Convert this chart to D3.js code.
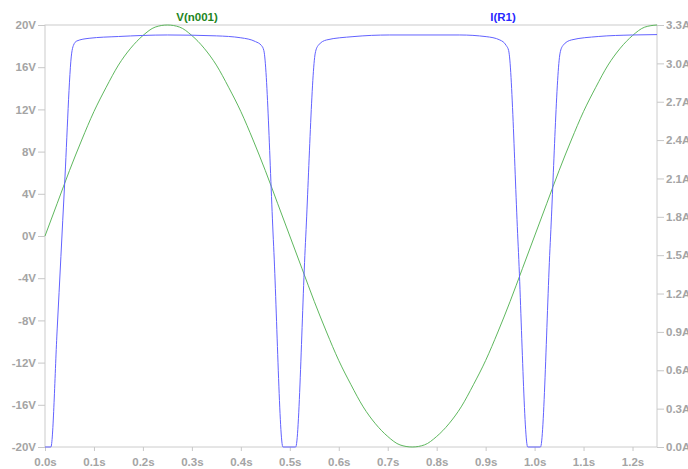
<!DOCTYPE html>
<html>
<head>
<meta charset="utf-8">
<script src="https://cdn.jsdelivr.net/npm/d3@7"></script>
<style>
  body { margin: 0; background: #fff; }
  svg { display: block; font-family: "Liberation Sans", Arial, sans-serif; }
  .axis text { fill: #a4a4a4; font-size: 11.5px; font-weight: bold; }
  .axis line { stroke: #c8c8c8; }
</style>
</head>
<body>
<svg id="plot"></svg>
<script>
// V(n001) (volts)
var timeV = [0, 0.025, 0.05, 0.075, 0.1, 0.125, 0.15, 0.175, 0.2, 0.225, 0.25,
             0.275, 0.3, 0.325, 0.35, 0.375, 0.4, 0.425, 0.45, 0.475, 0.5,
             0.525, 0.55, 0.575, 0.6, 0.625, 0.65, 0.675, 0.7, 0.725, 0.75,
             0.775, 0.8, 0.825, 0.85, 0.875, 0.9, 0.925, 0.95, 0.975, 1.0,
             1.025, 1.05, 1.075, 1.1, 1.125, 1.15, 1.175, 1.2, 1.225, 1.25];
var voltage = [0, 3.1, 6.2, 9.1, 11.8, 14.1, 16.2, 17.8, 19.0, 19.8, 20.0,
               19.8, 19.0, 17.8, 16.2, 14.1, 11.8, 9.1, 6.2, 3.1, 0,
               -3.1, -6.2, -9.1, -11.8, -14.1, -16.2, -17.8, -19.0, -19.8, -20.0,
               -19.8, -19.0, -17.8, -16.2, -14.1, -11.8, -9.1, -6.2, -3.1, 0,
               3.1, 6.2, 9.1, 11.8, 14.1, 16.2, 17.8, 19.0, 19.8, 20.0];

// I(R1) (amps)
var timeI = [0, 0.012, 0.025, 0.04, 0.0545, 0.058, 0.065, 0.09, 0.15, 0.25, 0.35, 0.40, 0.43, 0.442, 0.447,
             0.467, 0.486, 0.512, 0.532, 0.552, 0.558, 0.575, 0.629, 0.704, 0.847, 0.901, 0.929, 0.942, 0.947,
             0.9665, 0.986, 1.012, 1.032, 1.052, 1.058, 1.075, 1.13, 1.2, 1.25];
var current = [0, 0, 0.93, 2.05, 3.08, 3.14, 3.175, 3.196, 3.21, 3.222, 3.215, 3.20, 3.17, 3.14, 3.1,
               1.57, 0, 0, 1.6, 3.08, 3.14, 3.183, 3.209, 3.222, 3.222, 3.209, 3.183, 3.14, 3.1,
               1.57, 0, 0, 1.6, 3.08, 3.14, 3.183, 3.21, 3.222, 3.225];

var xTicks = [0, 0.1, 0.2, 0.3, 0.4, 0.5, 0.6, 0.7, 0.8, 0.9, 1.0, 1.1, 1.2];
var vTicks = [-20, -16, -12, -8, -4, 0, 4, 8, 12, 16, 20];
var iTicks = [0, 0.3, 0.6, 0.9, 1.2, 1.5, 1.8, 2.1, 2.4, 2.7, 3.0, 3.3];

var width = 688, height = 469;
var plotLeft = 45, plotRight = 657, plotTop = 25, plotBottom = 447;

var svg = d3.select("#plot").attr("width", width).attr("height", height);

var x = d3.scaleLinear().domain([0, 1.25]).range([plotLeft, plotRight]);
var yV = d3.scaleLinear().domain([-20, 20]).range([plotBottom, plotTop]);
var yI = d3.scaleLinear().domain([0, 3.3]).range([plotBottom, plotTop]);

// frame
svg.append("rect")
   .attr("x", plotLeft).attr("y", plotTop)
   .attr("width", plotRight - plotLeft).attr("height", plotBottom - plotTop)
   .attr("fill", "none")
   .attr("stroke", "#cccccc");

svg.append("g")
   .attr("class", "axis")
   .attr("transform", "translate(0," + plotBottom + ")")
   .call(d3.axisBottom(x).tickValues(xTicks).tickSize(4).tickSizeOuter(0)
           .tickFormat(d => d3.format(".1f")(d) + "s"))
   .call(g => g.select(".domain").remove())
   .selectAll("text").attr("dy", "1.05em");

svg.append("g")
   .attr("class", "axis")
   .attr("transform", "translate(" + plotLeft + ",0)")
   .call(d3.axisLeft(yV).tickValues(vTicks).tickSize(7).tickPadding(2).tickSizeOuter(0)
           .tickFormat(d => d + "V"))
   .call(g => g.select(".domain").remove());

svg.append("g")
   .attr("class", "axis")
   .attr("transform", "translate(" + plotRight + ",0)")
   .call(d3.axisRight(yI).tickValues(iTicks).tickSize(7).tickPadding(2).tickSizeOuter(0)
           .tickFormat(d => d3.format(".1f")(d) + "A"))
   .call(g => g.select(".domain").remove());

// traces
var lineV = d3.line()
  .x((d, i) => x(timeV[i]))
  .y(d => yV(d))
  .curve(d3.curveMonotoneX);

var lineI = d3.line()
  .x((d, i) => x(timeI[i]))
  .y(d => yI(d))
  .curve(d3.curveMonotoneX);

svg.append("path")
   .attr("d", lineV(voltage))
   .attr("fill", "none")
   .attr("stroke", "#4caf4c")
   .attr("stroke-width", 0.9);

svg.append("path")
   .attr("d", lineI(current))
   .attr("fill", "none")
   .attr("stroke", "#6262ff")
   .attr("stroke-width", 1);

// trace names
svg.append("text")
   .attr("x", 197).attr("y", 21)
   .attr("text-anchor", "middle")
   .attr("font-size", "11.5px").attr("font-weight", "bold")
   .attr("fill", "#1e861e")
   .text("V(n001)");

svg.append("text")
   .attr("x", 503).attr("y", 21)
   .attr("text-anchor", "middle")
   .attr("font-size", "11.5px").attr("font-weight", "bold")
   .attr("fill", "#2828ff")
   .text("I(R1)");
</script>
</body>
</html>
